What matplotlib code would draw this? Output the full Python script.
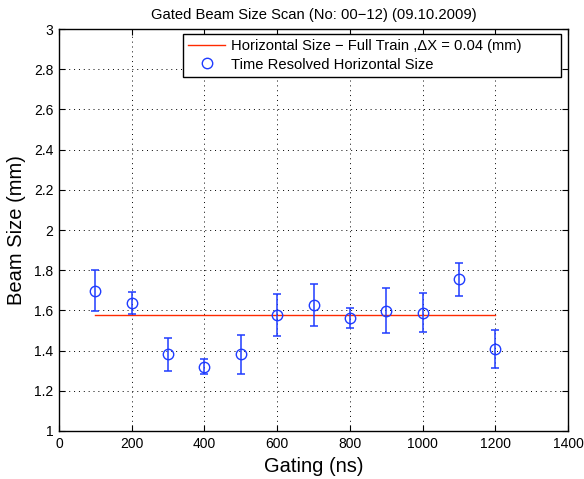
import matplotlib
matplotlib.use("Agg")
import matplotlib.pyplot as plt
import numpy as np

plt.rcParams['font.family'] = ['Liberation Sans', 'DejaVu Sans']

# gating time (ns) and measured horizontal beam size (mm)
gating = [100, 200, 300, 400, 500, 600, 700, 800, 900, 1000, 1100, 1200]
beam_size = [1.697, 1.637, 1.382, 1.320, 1.382, 1.579, 1.625, 1.562, 1.599, 1.589, 1.755, 1.408]
err_low = [0.102, 0.057, 0.085, 0.038, 0.098, 0.106, 0.104, 0.051, 0.111, 0.096, 0.085, 0.093]
err_high = [0.103, 0.053, 0.082, 0.038, 0.097, 0.104, 0.106, 0.051, 0.111, 0.096, 0.082, 0.094]

# full train reference
full_train_x = [100, 1200]
full_train_size = 1.575

blue = '#1f3cff'

fig = plt.figure(figsize=(5.84, 4.79), dpi=100)
ax = fig.add_axes([59 / 584, 1 - 431 / 479, 509 / 584, 402 / 479])

ax.plot(full_train_x, [full_train_size] * 2, color='#ff2a00', lw=1.0,
        label='Horizontal Size \u2212 Full Train ,\u0394X = 0.04 (mm)')
ax.errorbar(gating, beam_size, yerr=[err_low, err_high], fmt='none',
            ecolor=blue, elinewidth=1.1, capsize=3, capthick=1.1)
ax.plot(gating, beam_size, 'o', ms=7.5, mfc='none', mec=blue, mew=1.0,
        label='Time Resolved Horizontal Size')

ax.set_xlim(0, 1400)
ax.set_ylim(1, 3)
ax.set_xticks(np.arange(0, 1401, 200))
ax.set_yticks(np.arange(1, 3.01, 0.2))
ax.set_yticklabels(['1', '1.2', '1.4', '1.6', '1.8', '2', '2.2', '2.4', '2.6', '2.8', '3'])
ax.grid(True, linestyle=(0, (1, 4)), color='black', lw=0.7)
ax.tick_params(direction='in', top=True, right=True, labelsize=10, length=4, pad=4)
for s in ax.spines.values():
    s.set_linewidth(1.0)

ax.set_xlabel('Gating (ns)', fontsize=14.5, labelpad=5)
ax.set_ylabel('Beam Size (mm)', fontsize=14.5, labelpad=6)
ax.set_title('Gated Beam Size Scan (No: 00\u221212) (09.10.2009)', fontsize=10.6, pad=7)

leg = ax.legend(loc='upper left', bbox_to_anchor=(0.2436, 0.5, 0.7426, 0.4876),
                mode='expand', borderaxespad=0, fontsize=10.6, fancybox=False,
                framealpha=1, edgecolor='black', handlelength=2.5,
                handletextpad=0.4, borderpad=0.35, labelspacing=0.3)
leg.get_frame().set_linewidth(1.0)

fig.savefig('out.png', dpi=100)
